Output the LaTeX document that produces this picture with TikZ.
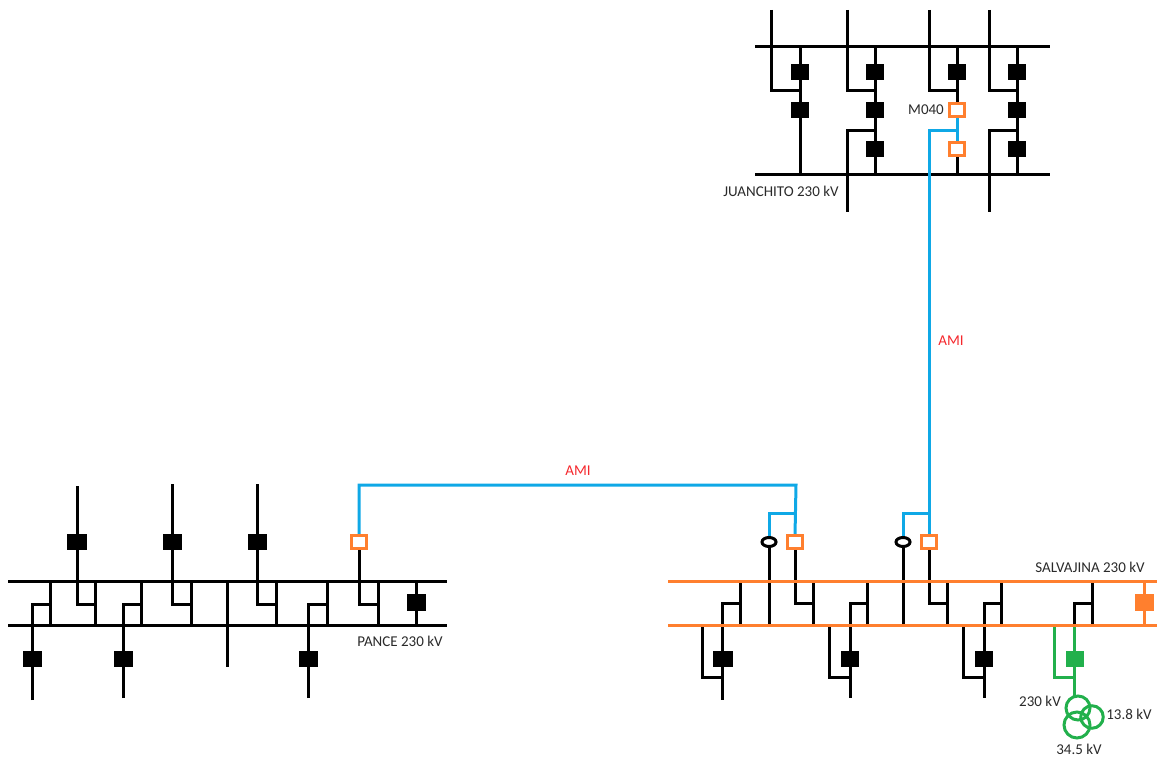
\documentclass[tikz,border=0pt]{standalone}
\usepackage{fontspec}
\setmainfont{Carlito}
\usetikzlibrary{backgrounds,shapes.geometric}
\definecolor{busorange}{HTML}{FF7F2E}
\definecolor{linkblue}{HTML}{0FA8E6}
\definecolor{gengreen}{HTML}{22B04C}
\definecolor{amired}{HTML}{F5282D}
\definecolor{labelink}{HTML}{2A2A2A}
\newcommand{\pt}[3]{\coordinate (#1) at (#2,#3);}
\tikzset{
  x=1pt,y=-1pt,
  wire/.style={line width=3pt,black},
  busbar/.style={line width=3pt,black},
  orangebus/.style={line width=3pt,busorange},
  bluewire/.style={line width=3pt,linkblue},
  greenwire/.style={line width=3pt,gengreen},
  orangewire/.style={line width=3pt,busorange},
  brk/.style={draw=none,fill=black,minimum width=18pt,minimum height=16pt,inner sep=0pt,outer sep=0pt},
  brkopen/.style={draw=busorange,line width=3pt,fill=white,minimum width=15pt,minimum height=13pt,inner sep=0pt,outer sep=0pt},
  brkgreen/.style={brk,fill=gengreen},
  brkorange/.style={brk,fill=busorange},
  ctring/.style={ellipse,draw=black,line width=3pt,fill=white,minimum width=14pt,minimum height=9pt,inner sep=0pt,outer sep=0pt},
  winding/.style={circle,draw=gengreen,line width=3pt,inner sep=0pt,outer sep=0pt},
  lbl/.style={font=\fontsize{15}{17}\selectfont,text=labelink,inner sep=0pt},
  amilbl/.style={font=\fontsize{15}{17}\selectfont,text=amired,inner sep=0pt},
}
\begin{document}
\begin{tikzpicture}
\useasboundingbox (0,0) rectangle (1157,759);

% ---------- JUANCHITO ----------
\node[brk] (j11) at (800,72) {};
\node[brk] (j12) at (800,110) {};
\node[brk] (j21) at (875,72) {};
\node[brk] (j22) at (875,110) {};
\node[brk] (j23) at (875,149) {};
\node[brk] (j31) at (957,72) {};
\node[brkopen] (j32) at (957,110) {};
\node[brkopen] (j33) at (957,149) {};
\node[brk] (j41) at (1017,72) {};
\node[brk] (j42) at (1017,110) {};
\node[brk] (j43) at (1017,149) {};
\pt{jtl}{755}{47}\pt{jtr}{1050}{47}\pt{jbl}{755}{175}\pt{jbr}{1050}{175}
\pt{j1i}{771}{10}\pt{j1t}{800}{91}\pt{j1a}{800}{47}\pt{j1b}{800}{175}
\pt{j2i}{847}{10}\pt{j2t}{875}{91}\pt{j2a}{875}{47}\pt{j2b}{875}{175}\pt{j2u}{875}{131}\pt{j2o}{847}{212}
\pt{j3i}{929}{10}\pt{j3t}{957}{91}\pt{j3a}{957}{47}\pt{j3b}{957}{175}\pt{j3u}{957}{131}
\pt{j4i}{989}{10}\pt{j4t}{1017}{91}\pt{j4a}{1017}{47}\pt{j4b}{1017}{175}\pt{j4u}{1017}{131}\pt{j4o}{989}{212}
\pt{amiv}{929}{513}

% ---------- PANCE ----------
\node[brk,minimum width=20pt] (p1) at (77,542) {};
\node[brk,minimum width=19pt] (p2) at (172,542) {};
\node[brk,minimum width=19pt] (p3) at (257,542) {};
\node[brkopen] (p4) at (359,542) {};
\node[brk,minimum width=19pt,minimum height=17pt] (p5) at (416,602) {};
\node[brk,minimum width=19pt] (p6) at (32,659) {};
\node[brk,minimum width=19pt] (p7) at (123,659) {};
\node[brk,minimum width=19pt] (p8) at (308,659) {};
\pt{ptl}{8}{581}\pt{ptr}{447}{581}\pt{pbl}{8}{625}\pt{pbr}{447}{625}
\pt{p1i}{77}{486}\pt{p1t}{95}{604}\pt{p1a}{95}{581}\pt{p1b}{95}{625}
\pt{p2i}{172}{484}\pt{p2t}{191}{604}\pt{p2a}{191}{581}\pt{p2b}{191}{625}
\pt{p3i}{257}{484}\pt{p3t}{276}{604}\pt{p3a}{276}{581}\pt{p3b}{276}{625}
\pt{p4t}{378}{604}\pt{p4a}{378}{581}\pt{p4b}{378}{625}
\pt{p5a}{416}{581}\pt{p5b}{416}{625}
\pt{p6o}{32}{700}\pt{p6t}{50}{604}\pt{p6a}{50}{581}\pt{p6b}{50}{625}
\pt{p7o}{123}{698}\pt{p7t}{141}{604}\pt{p7a}{141}{581}\pt{p7b}{141}{625}
\pt{p8o}{308}{698}\pt{p8t}{327}{604}\pt{p8a}{327}{581}\pt{p8b}{327}{625}
\pt{pma}{227}{581}\pt{pmo}{227}{667}
\pt{amih}{796}{485}

% ---------- SALVAJINA ----------
\node[brk,minimum width=20pt] (s1) at (723,659) {};
\node[brk] (s2) at (850,659) {};
\node[brk] (s3) at (984,659) {};
\node[brkgreen] (s4) at (1075,659) {};
\node[brkorange,minimum width=19pt,minimum height=17pt] (s5) at (1144,602) {};
\node[brkopen] (s6) at (795,542) {};
\node[brkopen] (s7) at (929,542) {};
\node[ctring] (c1) at (769,542) {};
\node[ctring] (c2) at (903,542) {};
\node[winding,minimum size=24pt] (t1) at (1078,708) {};
\node[winding,minimum size=22.5pt] (t2) at (1092,717) {};
\node[winding,minimum size=26pt] (t3) at (1077,725) {};
\pt{stl}{668}{581}\pt{str}{1157}{581}\pt{sbl}{668}{625}\pt{sbr}{1157}{625}
\pt{a1a}{740}{581}\pt{a1b}{740}{625}\pt{a1t}{722.5}{603}\pt{a1o}{722.5}{700}\pt{a1l}{702}{625}\pt{a1u}{722.5}{677}
\pt{c1b}{769}{625}\pt{c1j}{769}{513}\pt{c2b}{903}{625}\pt{c2j}{903}{513}
\pt{s6t}{813}{603}\pt{s6a}{813}{581}\pt{s6b}{813}{625}
\pt{a2a}{867}{581}\pt{a2b}{867}{625}\pt{a2t}{850}{603}\pt{a2o}{850}{698}\pt{a2l}{829}{625}\pt{a2u}{850}{677}
\pt{s7t}{947}{603}\pt{s7a}{947}{581}\pt{s7b}{947}{625}
\pt{a3a}{1001}{581}\pt{a3b}{1001}{625}\pt{a3t}{984}{603}\pt{a3o}{984}{698}\pt{a3l}{963}{625}\pt{a3u}{984}{677}
\pt{a4a}{1092}{581}\pt{a4b}{1092}{625}\pt{a4t}{1074}{603}\pt{a4m}{1074}{625}\pt{a4l}{1054}{625}\pt{a4u}{1074}{677}
\pt{s5a}{1144}{581}\pt{s5b}{1144}{625}

\begin{scope}[on background layer]
  % Juanchito
  \draw[busbar] (jtl) -- (jtr);
  \draw[busbar] (jbl) -- (jbr);
  \draw[wire] (j1i) |- (j1t);
  \draw[wire] (j1a) -- (j1b);
  \draw[wire] (j2i) |- (j2t);
  \draw[wire] (j2a) -- (j2b);
  \draw[wire] (j2u) -| (j2o);
  \draw[wire] (j3i) |- (j3t);
  \draw[wire] (j3a) -- (j32.north);
  \draw[wire] (j33.south) -- (j3b);
  \draw[bluewire] (j32.south) -- (j33.north);
  \draw[wire] (j4i) |- (j4t);
  \draw[wire] (j4a) -- (j4b);
  \draw[wire] (j4u) -| (j4o);
  % Pance
  \draw[busbar] (ptl) -- (ptr);
  \draw[busbar] (pbl) -- (pbr);
  \draw[wire] (p1i) |- (p1t);
  \draw[wire] (p1a) -- (p1b);
  \draw[wire] (p2i) |- (p2t);
  \draw[wire] (p2a) -- (p2b);
  \draw[wire] (p3i) |- (p3t);
  \draw[wire] (p3a) -- (p3b);
  \draw[wire] (p4.south) |- (p4t);
  \draw[wire] (p4a) -- (p4b);
  \draw[wire] (p5a) -- (p5b);
  \draw[wire] (p6o) |- (p6t);
  \draw[wire] (p6a) -- (p6b);
  \draw[wire] (p7o) |- (p7t);
  \draw[wire] (p7a) -- (p7b);
  \draw[wire] (p8o) |- (p8t);
  \draw[wire] (p8a) -- (p8b);
  \draw[wire] (pma) -- (pmo);
  % Salvajina black
  \draw[wire] (a1a) -- (a1b);
  \draw[wire] (a1a |- a1t) -- (a1t) -- (a1o);
  \draw[wire] (a1l) |- (a1u);
  \draw[wire] (c1.south) -- (c1b);
  \draw[wire] (s6.south) |- (s6t);
  \draw[wire] (s6a) -- (s6b);
  \draw[wire] (a2a) -- (a2b);
  \draw[wire] (a2a |- a2t) -- (a2t) -- (a2o);
  \draw[wire] (a2l) |- (a2u);
  \draw[wire] (c2.south) -- (c2b);
  \draw[wire] (s7.south) |- (s7t);
  \draw[wire] (s7a) -- (s7b);
  \draw[wire] (a3a) -- (a3b);
  \draw[wire] (a3a |- a3t) -- (a3t) -- (a3o);
  \draw[wire] (a3l) |- (a3u);
  \draw[wire] (a4a) -- (a4b);
  \draw[wire] (a4a |- a4t) -- (a4t) -- (a4m);
  % Salvajina green
  \draw[greenwire] (a4m) -- (a4m |- t1.north);
  \draw[greenwire] (a4l) |- (a4u);
  % Salvajina orange
  \draw[orangebus] (stl) -- (str);
  \draw[orangebus] (sbl) -- (sbr);
  \draw[orangewire] (s5a) -- (s5b);
  % AMI links
  \draw[bluewire] (j3u) -| (s7.north);
  \draw[bluewire] (p4.north) |- (amih) -- (s6.north);
  \draw[bluewire] (c1.north) |- (c1j -| s6.north);
  \draw[bluewire] (c2.north) |- (amiv);
\end{scope}

% ---------- LABELS ----------
\node[lbl] (ljuan) at (781,191) {JUANCHITO 230 kV};
\node[lbl] (lm040) at (926,110) {M040};
\node[lbl] (lpance) at (400,641) {PANCE 230 kV};
\node[lbl] (lsalv) at (1090,567) {SALVAJINA 230 kV};
\node[lbl] (l230) at (1040,701) {230 kV};
\node[lbl] (l138) at (1129,714) {13.8 kV};
\node[lbl] (l345) at (1079,749) {34.5 kV};
\node[amilbl] (lami1) at (951,341) {AMI};
\node[amilbl] (lami2) at (578,471) {AMI};
\end{tikzpicture}
\end{document}
